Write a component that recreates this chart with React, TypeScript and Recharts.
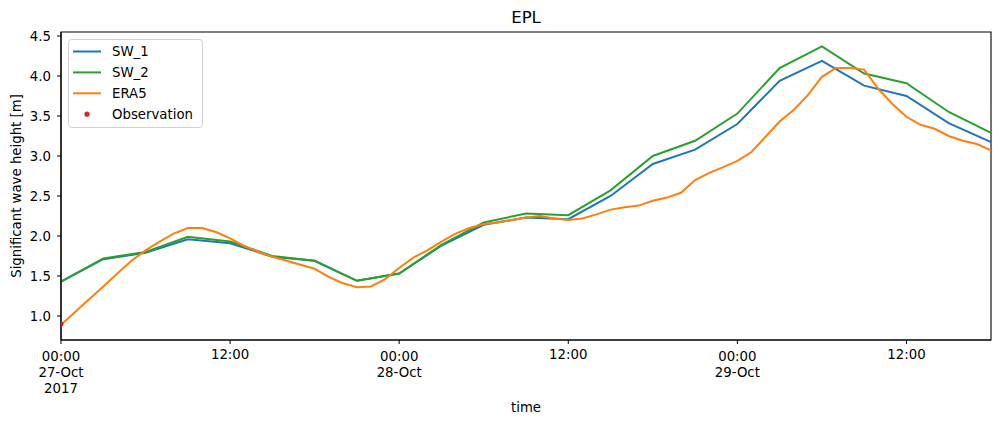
import React from 'react';
import { ComposedChart, Line, Scatter, XAxis, YAxis, Legend, ReferenceArea } from 'recharts';

// Hours since 2017-10-27 00:00
const swHours = [0, 3, 6, 9, 12, 15, 18, 21, 24, 27, 30, 33, 36, 39, 42, 45, 48, 51, 54, 57, 60, 63, 66];
const sw1Values = [1.43, 1.71, 1.79, 1.96, 1.91, 1.74, 1.69, 1.44, 1.53, 1.88, 2.14, 2.23, 2.21, 2.50, 2.90, 3.08, 3.40, 3.94, 4.19, 3.88, 3.75, 3.41, 3.175];
const sw2Values = [1.43, 1.72, 1.80, 1.99, 1.93, 1.75, 1.69, 1.44, 1.53, 1.89, 2.17, 2.28, 2.26, 2.57, 3.00, 3.19, 3.53, 4.10, 4.37, 4.03, 3.91, 3.55, 3.29];

const eraHours = [
  0, 1, 2, 3, 4, 5, 6, 7, 8, 9, 10, 11, 12, 13, 14, 15, 16, 17, 18, 19, 20, 21, 22,
  23, 24, 25, 26, 27, 28, 29, 30, 31, 32, 33, 34, 35, 36, 37, 38, 39, 40, 41, 42, 43, 44,
  45, 46, 47, 48, 49, 50, 51, 52, 53, 54, 55, 56, 57, 58, 59, 60, 61, 62, 63, 64, 65, 66,
];
const eraValues = [
  0.89, 1.05, 1.21, 1.37, 1.53, 1.69, 1.82, 1.93, 2.03, 2.10, 2.10, 2.05, 1.97, 1.875, 1.80, 1.74, 1.69, 1.64, 1.59, 1.49, 1.41, 1.36, 1.37,
  1.46, 1.60, 1.73, 1.82, 1.93, 2.03, 2.10, 2.15, 2.17, 2.20, 2.23, 2.25, 2.22, 2.20, 2.22, 2.27, 2.33, 2.36, 2.38, 2.44, 2.48, 2.54,
  2.70, 2.79, 2.86, 2.94, 3.05, 3.24, 3.43, 3.575, 3.76, 3.99, 4.10, 4.10, 4.08, 3.84, 3.65, 3.49, 3.39, 3.34, 3.25, 3.19, 3.15, 3.07,
];

const obsHours = [0];
const obsValues = [0.9];

const xTickHours = [0, 12, 24, 36, 48, 60];
const xTickLabels = [
  ['00:00', '27-Oct', '2017'],
  ['12:00'],
  ['00:00', '28-Oct'],
  ['12:00'],
  ['00:00', '29-Oct'],
  ['12:00'],
];
const yTicks = [1.0, 1.5, 2.0, 2.5, 3.0, 3.5, 4.0, 4.5];

const seriesNames = ['SW_1', 'SW_2', 'ERA5', 'Observation'];
const colors = ['#1f77b4', '#2ca02c', '#ff7f0e', '#d62728'];

const toRows = (hs: number[], vs: number[]) => hs.map((h, i) => ({ h, v: vs[i] }));
const sw1Data = toRows(swHours, sw1Values);
const sw2Data = toRows(swHours, sw2Values);
const eraData = toRows(eraHours, eraValues);
const obsData = toRows(obsHours, obsValues);

const FONT = 'DejaVu Sans, sans-serif';

const XTick = (props: any) => {
  const { x, payload } = props;
  const idx = xTickHours.indexOf(payload.value);
  const lines = idx >= 0 ? xTickLabels[idx] : [];
  const base = lines.length > 1 ? 361 : 359;
  return (
    <g>
      {lines.map((t, i) => (
        <text key={i} x={x} y={base + i * 16} textAnchor="middle" fontSize={13.3} fontFamily={FONT} fill="#000">
          {t}
        </text>
      ))}
    </g>
  );
};

const YTick = (props: any) => {
  const { y, payload } = props;
  return (
    <text x={51} y={y} dy="0.355em" textAnchor="end" fontSize={13.3} fontFamily={FONT} fill="#000">
      {Number(payload.value).toFixed(1)}
    </text>
  );
};

const renderLegend = () => (
  <svg width={135} height={89} style={{ display: 'block' }}>
    <rect x={0.5} y={0.5} width={134} height={88} rx={3} ry={3} fill="#ffffff" fillOpacity={0.8} stroke="#d0d0d0" strokeWidth={1} />
    {seriesNames.map((name, i) => {
      const cy = 12.5 + i * 20.9;
      return (
        <g key={name}>
          {i < 3 ? (
            <line x1={5} x2={33} y1={cy} y2={cy} stroke={colors[i]} strokeWidth={2} />
          ) : (
            <circle cx={19} cy={cy} r={2.6} fill={colors[i]} />
          )}
          <text x={44} y={cy} dy="0.36em" fontSize={13.3} fontFamily={FONT} fill="#000">
            {name}
          </text>
        </g>
      );
    })}
  </svg>
);

export default function App() {
  return (
    <div style={{ position: 'absolute', left: 0, top: 0, width: 1001, height: 426, background: '#fff' }}>
      <ComposedChart width={1001} height={426} margin={{ top: 32, right: 10, bottom: 26, left: 0 }}>
        <XAxis
          dataKey="h"
          type="number"
          domain={[0, 66]}
          ticks={xTickHours}
          interval={0}
          allowDataOverflow
          height={60}
          tick={<XTick />}
          tickSize={4}
          axisLine={{ stroke: '#000', strokeWidth: 1.1 }}
          tickLine={{ stroke: '#000', strokeWidth: 1 }}
          label={{
            content: () => (
              <g>
                <text x={526} y={412} textAnchor="middle" fontSize={13.3} fontFamily={FONT} fill="#000">
                  time
                </text>
                <text x={526} y={23} textAnchor="middle" fontSize={16.5} fontFamily={FONT} fill="#000">
                  EPL
                </text>
              </g>
            ),
          }}
        />
        <YAxis
          type="number"
          domain={[0.7, 4.55]}
          ticks={yTicks}
          interval={0}
          allowDataOverflow
          width={61}
          tick={<YTick />}
          tickSize={4}
          axisLine={{ stroke: '#000', strokeWidth: 1.1 }}
          tickLine={{ stroke: '#000', strokeWidth: 1 }}
          label={{
            content: () => (
              <text
                x={21}
                y={186}
                transform="rotate(-90 21 186)"
                textAnchor="middle"
                fontSize={13.3}
                fontFamily={FONT}
                fill="#000"
              >
                Significant wave height [m]
              </text>
            ),
          }}
        />
        <ReferenceArea
          x1={0}
          x2={66}
          y1={0.7}
          y2={4.55}
          fill="none"
          fillOpacity={0}
          stroke="#000"
          strokeWidth={1.1}
          ifOverflow="visible"
        />
        <Line data={sw1Data} dataKey="v" name="SW_1" stroke={colors[0]} strokeWidth={2} dot={false} isAnimationActive={false} />
        <Line data={sw2Data} dataKey="v" name="SW_2" stroke={colors[1]} strokeWidth={2} dot={false} isAnimationActive={false} />
        <Line data={eraData} dataKey="v" name="ERA5" stroke={colors[2]} strokeWidth={2} dot={false} isAnimationActive={false} />
        <Scatter
          data={obsData}
          dataKey="v"
          name="Observation"
          fill={colors[3]}
          isAnimationActive={false}
          shape={(p: any) => <circle cx={p.cx} cy={p.cy} r={2.6} fill={colors[3]} />}
        />
        <Legend
          layout="vertical"
          align="center"
          verticalAlign="middle"
          content={renderLegend}
          wrapperStyle={{ position: 'absolute', left: 68, top: 39, width: 135, height: 89 }}
        />
      </ComposedChart>
    </div>
  );
}
